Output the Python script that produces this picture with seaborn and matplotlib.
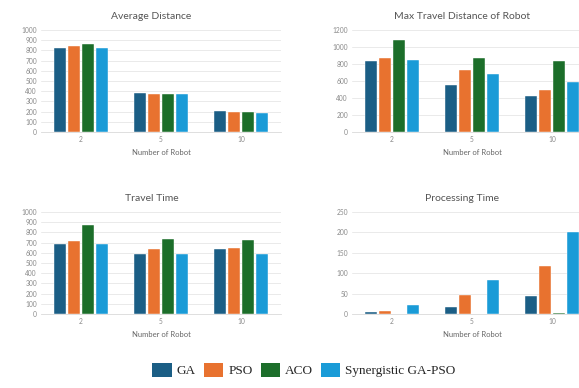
import matplotlib
matplotlib.use("Agg")
import matplotlib.pyplot as plt
import seaborn as sns
import pandas as pd
from matplotlib.patches import Patch

robots = ["2", "5", "10"]
methods = ["GA", "PSO", "ACO", "Synergistic GA-PSO"]
colors = ["#1b5e85", "#e8722f", "#1c6e2a", "#1a9bd7"]

avg_distance = {"GA": [823, 379, 203], "PSO": [842, 376, 197],
                "ACO": [866, 368, 196], "Synergistic GA-PSO": [827, 368, 187]}
max_travel = {"GA": [835, 549, 427], "PSO": [867, 733, 498],
              "ACO": [1078, 874, 835], "Synergistic GA-PSO": [843, 682, 588]}
travel_time = {"GA": [685, 587, 639], "PSO": [718, 639, 643],
               "ACO": [872, 734, 728], "Synergistic GA-PSO": [685, 584, 584]}
processing = {"GA": [5, 18, 45], "PSO": [7, 46, 118],
              "ACO": [0.3, 0.5, 2], "Synergistic GA-PSO": [21, 84, 200]}

panels = [
    ("Average Distance", avg_distance, 1000, 100),
    ("Max Travel Distance of Robot", max_travel, 1200, 200),
    ("Travel Time", travel_time, 1000, 100),
    ("Processing Time", processing, 250, 50),
]

sns.set_theme(style="white")
plt.rcParams["font.family"] = ["Lato", "DejaVu Sans"]

fig = plt.figure(figsize=(5.79, 3.88), dpi=100)
W, H = 579, 388
positions = [(41, 30), (352, 30), (41, 212), (352, 212)]
aw, ah = 240, 102

for (title, data, ymax, step), (x0, y0) in zip(panels, positions):
    ax = fig.add_axes([x0 / W, 1 - (y0 + ah) / H, aw / W, ah / H])
    rows = []
    for m in methods:
        for r, v in zip(robots, data[m]):
            rows.append({"robot": r, "method": m, "value": v})
    df = pd.DataFrame(rows)
    sns.barplot(data=df, x="robot", y="value", hue="method", order=robots,
                hue_order=methods, palette=colors, width=0.69, gap=0.15,
                ax=ax, legend=False, saturation=1, edgecolor="white", linewidth=0.3)
    ax.set_ylim(0, ymax)
    ax.set_xlim(-0.5, 2.5)
    ax.set_yticks(range(0, ymax + 1, step))
    ax.grid(axis="y", color="#e6e6e6", linewidth=0.6)
    ax.set_axisbelow(True)
    for s in ["top", "right", "left"]:
        ax.spines[s].set_visible(False)
    ax.spines["bottom"].set_color("#d9d9d9")
    ax.spines["bottom"].set_linewidth(0.6)
    ax.tick_params(axis="both", labelsize=4.8, colors="#8a8a8a", length=0, pad=3)
    ax.set_xlabel("Number of Robot", fontsize=5.5, color="#666666", labelpad=4)
    ax.set_ylabel("")
    ax.set_title(title, fontsize=7.5, color="#555555", x=0.46, pad=8)

handles = [Patch(facecolor=c, edgecolor="none") for c in colors]
fig.legend(handles, methods, loc="center", bbox_to_anchor=(304 / W, 1 - 370 / H),
           ncol=4, frameon=False, handlelength=1.45, handleheight=1.25,
           handletextpad=0.4, columnspacing=0.6,
           prop={"family": "Liberation Serif", "size": 9.5})

fig.savefig("out.png", dpi=100)
